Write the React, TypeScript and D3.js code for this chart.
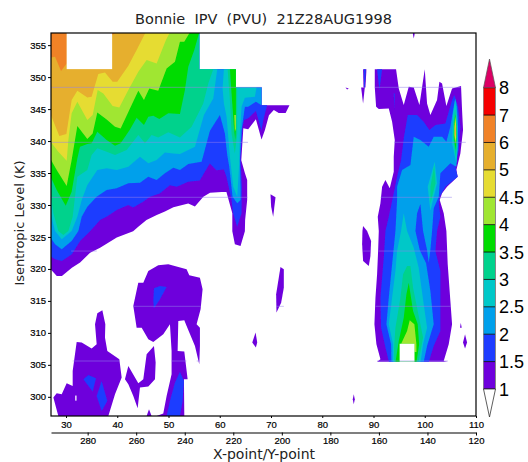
import React, { useEffect, useRef } from 'react';
import * as d3 from 'd3';

type Ring = [number, number][];

// contour regions, as [x-point, theta K] rings, one array per lower bound
const pv1: Ring[] = [
  [[27,357],[56,357],[56,351.25],[63.15,351.25],[63.15,348.4],[68.15,348.4],[68.15,345.6],[73.6,345.6],[72.85,344.4],[71.5,344.4],[70.55,344.85],[69.6,344.05],[68.8,341.7],[68.15,340.25],[67.05,343.4],[65.55,341.85],[64.6,342],[64.2,337],[64.9,335],[65.35,333.9],[65.35,330.8],[64.95,327.65],[64.9,325.9],[64.05,323.6],[62.95,323.85],[62.45,325.9],[62.45,328.7],[61.3,332.05],[60.35,332.05],[58.1,331.9],[56.8,331.3],[55.15,329.75],[53.85,330.25],[50.95,329.65],[49.3,329],[47.7,328.45],[45.7,327.65],[44.1,326.6],[43.1,325.9],[39.9,324.9],[36.65,323.3],[34.7,322.55],[32.75,321],[31.15,320.2],[29.2,318.9],[28.2,318.9],[27,319.95]],
  [[43.13,314.21],[44.1,317.85],[45.08,317.85],[46.06,319.68],[48,320.56],[49.96,320.72],[53.53,319.94],[54.05,319],[56.13,318.64],[56.65,316.81],[56.26,313.69],[55.48,311.34],[56.13,310.82],[56.13,307.96],[56,305.09],[55.16,307.96],[53.53,311.08],[53.08,311.97],[51.91,311.86],[51.78,307.17],[53.08,307.07],[53.73,302.75],[53.01,302.75],[53.08,297],[47.68,297],[48.98,297.38],[49.63,300.14],[50.6,303.53],[50.6,307.17],[50.28,311.34],[48.98,309.78],[47.03,308.58],[46.06,309],[44.76,310.82],[43.78,310.82]],
  [[32.08,308.58],[33.06,308.48],[35,307.54],[35.98,308.22],[35.66,311.34],[36.11,313.06],[37.09,313.53],[37.67,311.34],[37.6,309.26],[38.06,307.17],[40.4,305.87],[40.86,303.01],[39.56,300.4],[38.26,297],[28.5,297],[27.53,299.88],[28.18,300.56],[29.16,300.4],[30.13,302.12],[31.3,301.7],[31.3,304.05]],
  [[41.5,302.75],[42.16,304.83],[44.11,302.12],[45.08,302.75],[45.73,306.65],[47.16,307.96],[47.49,305.35],[47.36,302.75],[46.06,301.6],[44.43,301.44],[43.98,298.21],[43.13,300.14],[42.16,301.96]],
  [[45.73,297],[46.19,298.06],[46.7,297]],
  [[66.34,308.48],[66.99,310.04],[67.31,308.48],[67.05,307.7]],
  [[90.25,351.25],[94.4,351.25],[94.93,348.23],[95.9,345.63],[96.88,348.49],[97.85,348.39],[98.96,345.63],[100,351.25],[100.45,345.89],[101.1,344.06],[102.4,346.41],[102.86,349.28],[103.38,349.01],[104.22,345.47],[105.33,348.23],[107.08,348.6],[107.28,344.85],[107.47,341.72],[106.95,338.07],[106.17,335.47],[106.43,334.43],[104.35,332.86],[103.38,331.82],[102.92,330.78],[103.7,328.7],[104.22,325.93],[104.48,320.72],[105,315],[105.33,311.34],[104.68,308.22],[103.7,305.61],[104.48,305.5],[90.7,305.5],[91.35,305.87],[90.57,308.22],[90.18,311.34],[90.38,315.51],[90.7,319.16],[90.9,322.8],[91.03,325.93],[90.83,328.17],[91.35,330.26],[91.68,332.86],[92.33,333.9],[93.17,332.6],[93.95,335.21],[93.95,337.55],[94.15,340.16],[93.63,343.02],[92.98,345.11],[91.03,345],[90.51,345.37],[90.25,348.39]],
  [[71.85,320.3],[72.5,319.94],[72.5,317.07],[71.98,314.73],[71.07,313.17],[71,316.03]],
  [[86.15,300.4],[86.35,299.62],[86.15,298.84],[85.96,299.62]],
  [[87.97,326.72],[88.75,325.93],[89.53,324.37],[89.4,322.02],[89.08,320.46],[87.97,321.24],[87.78,323.85],[87.84,325.93]],
  [[107.02,311.6],[107.21,310.82],[106.89,310.82]],
  [[107.86,309.78],[108.25,308.48],[107.86,307.54],[107.47,308.48]],
  [[97.85,357],[98.05,356.83],[97.85,356.05],[97.66,356.83]],
  [[69.9,331.7],[70.88,331.2],[70.42,328.17],[70.03,329.74]],
  [[84.53,348.39],[85.18,348.23],[84.85,348.08]],
  [[87.58,348.39],[88.3,348.39],[87.97,345.89]],
  [[87.97,351.25],[88.62,351.25],[88.43,348.39],[88.04,348.39]],
];
const pv15: Ring[] = [
  [[27,357],[56,357],[56,351.25],[63.15,351.25],[63.15,348.4],[68.15,348.4],[68.15,345.6],[69.25,345.6],[68.5,343.3],[68.15,341.6],[67.05,344.7],[65.55,343.55],[64.75,343.3],[64.45,342.25],[64.05,337.55],[64.3,332.85],[64.25,328.7],[63.4,326.6],[62.6,328.7],[62.3,330.8],[61.3,334.4],[60.8,335.55],[59.35,335.45],[58.05,336.5],[56.1,333.85],[53.85,333.65],[51.6,332.85],[50.25,333.1],[48.3,331.8],[46.4,331.3],[45.05,330.5],[43.1,329.6],[42.15,330],[39.9,329.2],[37.9,328.15],[36.65,327.65],[34.7,325.9],[32.75,324.35],[31.15,322.3],[29.2,321.25],[27.85,321.5],[27,322]],
  [[47.16,316.97],[48.33,317.33],[49.63,317.18],[48.33,315.25],[47.16,313.84],[47.03,314.99]],
  [[52.23,303.94],[53.01,302.49],[52.75,299.36],[52.23,297],[49.63,297],[50.28,299.36],[51.26,302.22]],
  [[33.38,302.75],[34.36,303.42],[35.85,302.9],[35.2,300.82]],
  [[36.96,302.49],[38.06,299.36],[36.96,297.8],[35.98,300.14]],
  [[90.7,351.25],[91.68,351.25],[91.16,347.97]],
  [[93.95,347.45],[94.15,347.45],[94.08,344.85]],
  [[88.1,351.25],[88.49,351.25],[88.3,348.39],[88.17,348.39]],
  [[96.68,344.06],[98.5,344.06],[99.8,343.02],[100.91,341.72],[102.08,342.5],[104.03,342.76],[105.33,346.41],[105.78,347.19],[106.5,345.37],[106.95,342.24],[106.63,338.59],[105.98,335.99],[106.43,334.43],[104.03,332.86],[102.92,331.3],[102.73,330.26],[103.05,328.17],[102.4,325.93],[102.08,322.8],[103.05,319.68],[103.05,316.03],[103.05,310.3],[101.75,307.96],[100.8,305.5],[93,305.5],[92.33,307.7],[91.48,310.82],[91.35,315.51],[92,321.76],[92.33,325.93],[92.98,328.17],[94.08,332.34],[94.6,334.43],[95.38,337.03],[95.9,340.42]],
];
const pv2: Ring[] = [
  [[27,357],[56,357],[56,351.25],[63.15,351.25],[63.15,348.4],[68.15,348.4],[68.15,345.6],[67.05,346.15],[65.55,345.37],[64.9,345.37],[64.25,341.72],[63.93,337.03],[64.06,332.86],[64.06,330.78],[63.41,330.26],[62.5,331.3],[61.85,335.99],[61.46,337.81],[61,341.2],[60.03,344.07],[58.08,341.62],[56.46,336.77],[53.86,336.41],[52.23,335.47],[50.93,335.83],[49.3,334.95],[47.68,333.91],[46.06,334.43],[44.43,333.49],[42.16,333.39],[39.88,332.6],[37.93,332.34],[35.98,331.3],[34.16,329.74],[33.06,328.17],[32.41,325.93],[31.1,324.37],[29.16,323.07],[27.86,323.85],[27,324.89]],
  [[97.85,340.68],[99.15,340.16],[100.78,339.12],[101.75,340.68],[103.38,340.68],[104.22,339.9],[105,342.24],[105.65,345.37],[105.98,346.67],[106.3,345.37],[106.5,342.24],[106.43,339.12],[106.17,335.99],[105,336.51],[103.05,334.95],[102.73,331.3],[101.75,329.48],[101.43,325.93],[101.1,322.96],[100.78,320.98],[100.45,322.96],[99.67,325.93],[99.15,330.15],[98.5,328.7],[98.18,325.93],[99.02,322.96],[100.26,320.88],[101.1,316.55],[101.75,311.34],[100.45,307.96],[99.8,305.5],[93.5,305.5],[93.43,308.22],[92.52,311.34],[92.98,315.51],[93.63,320.72],[94.28,325.93],[94.6,330.78],[94.6,332.86],[95.58,335.47],[97.2,336.25]],
];
const pv25: Ring[] = [
  [[27,357],[56,357],[56,351.25],[59.51,351.25],[58.73,346.67],[56.91,344.07],[55.16,339.12],[52.23,337.97],[50.93,338.07],[49.3,338.23],[47.68,337.03],[46.06,336.51],[44.43,337.55],[42.16,335.99],[39.88,335.47],[37.93,335.73],[36.11,335.47],[34.16,333.13],[33.06,330.78],[32.21,328.18],[31.1,325.93],[29.16,324.63],[27.86,325.93],[27,328.7]],
  [[60.81,351.25],[63.15,351.25],[63.15,348.4],[67.18,348.4],[66.86,346.93],[64.9,346.77],[64.25,345.37],[63.93,341.2],[63.8,336.51],[63.41,331.3],[62.63,332.86],[61.98,337.55],[61.33,343.8],[60.81,345.89],[60.55,348.23]],
  [[95.9,328.7],[96.55,325.93],[97.85,323.33],[98.82,320.2],[99.8,314.47],[100.45,310.82],[99.67,308.22],[99.2,305.5],[93.85,305.5],[93.82,308.22],[92.98,311.34],[93.63,315.51],[94.28,319.68],[94.6,322.8],[95.38,325.93]],
  [[100.58,332.86],[101.95,336.77],[102.4,333.39],[101.1,329.11]],
  [[105.52,344.06],[105.91,346.41],[106.3,344.06],[106.43,339.12],[106.17,336.51],[105.33,339.64]],
];
const pv3: Ring[] = [
  [[27,357],[56,357],[56,351.25],[58.73,351.25],[57.76,349.01],[56.78,345.89],[54.51,342.24],[52.23,340.57],[49.96,341.36],[48,340.57],[46.71,340.94],[45.41,339.64],[44.11,340.94],[41.83,338.6],[39.56,337.81],[37.93,338.33],[36.11,338.86],[35,337.81],[34.16,335.47],[32.21,334.43],[31.3,328.18],[30.46,325.93],[29.48,325.31],[28.5,325.93],[27.53,328.7],[27,331.56]],
  [[61.53,351.25],[63.15,351.25],[63.15,348.4],[63.41,348.4],[63.41,341.2],[62.95,338.07],[62.3,341.2],[61.98,346.41]],
  [[96.55,320.46],[97.2,320.46],[97.72,317.07],[99.15,311.34],[99.67,309.26],[98.8,305.5],[94.05,305.5],[94,307.5],[94.28,310.82],[95.25,315.51],[95.77,319.16]],
  [[101.1,332.8],[101.85,336.2],[102.1,333.4],[101.1,330.2]],
  [[105.6,343],[105.93,345],[106.2,343],[106.3,339.5],[106.05,337.5],[105.55,340.5]],
];
const pv35: Ring[] = [
  [[27,357],[56,357],[55.03,354.23],[53.86,351.62],[53.2,347.97],[52.23,344.22],[49.96,344.33],[48.2,343.44],[47.03,343.96],[46.06,343.8],[45.21,342.5],[43.78,343.65],[42.48,341.82],[40.66,339.64],[39.56,339.27],[37.93,340.16],[36.11,341.46],[35,339.64],[34.16,339.53],[32.73,339.12],[32.21,337.29],[31.1,332.08],[29.94,329.89],[28.18,332.34],[27,334.43]],
  [[61.98,351.25],[63.15,351.25],[63.15,342.24],[63.02,340.16],[62.76,342.24],[62.44,345.89]],
  [[96.88,317.85],[97.72,313.43],[98.63,311.34],[98.9,308.2],[98.4,305.5],[94.3,305.5],[94.93,308.74],[95.9,312.38],[96.42,316.03]],
  [[105.75,342.5],[105.95,344.2],[106.15,342.5],[106.15,340],[105.98,338.6],[105.75,340.5]],
];
const pv4: Ring[] = [
  [[27,357],[54.18,357],[53.07,355.53],[52.23,355.53],[51.26,352.4],[49.63,351.36],[48,347.87],[46.25,348.23],[45.21,346.41],[44.11,347.87],[42.48,345.11],[40.66,341.98],[39.56,342.24],[37.93,343.39],[36.11,344.48],[35.2,341.2],[34.16,340.31],[32.21,342.35],[31.1,337.03],[30.13,332.97],[28.18,335.47],[27,337.14]],
  [[62.83,344.07],[63.15,344.07],[63.15,341.98],[62.95,341.46]],
  [[97.07,311.97],[97.98,311.34],[98.37,308.22],[98.37,307],[98,307],[97.98,308.3],[95.4,308.3],[96.55,310.3]],
  [[105.8,342.4],[105.97,343.9],[106.12,342.4],[106.12,340.6],[105.98,339.5],[105.8,340.8]],
];
const pv45: Ring[] = [
  [[27,357],[50.28,357],[49.5,355.79],[47.68,352.14],[45.73,352.66],[44.11,350.84],[42.16,347.97],[40.4,345.26],[39.1,345.47],[37.28,347.45],[36.18,347.97],[35.2,344.07],[34.16,343.28],[32.21,346.15],[31.1,344.33],[30.46,340.16],[30.13,336.93],[28.5,338.33],[27,339.9]],
  [[105.85,342],[105.98,343.3],[106.1,342],[106.1,340.9],[105.98,340.1],[105.85,341]],
];
const pv5: Ring[] = [
  [[27,357],[45.54,357],[43.78,354.23],[42.16,351.78],[40,349.28],[39.1,349.28],[37.6,350.73],[36.3,350.47],[35,346.93],[34.16,346.83],[32.21,347.87],[31.1,346.41],[30.07,341.1],[28.7,340.78],[27,344.17]],
  [[105.9,341.8],[105.98,342.8],[106.06,341.8],[106.06,341],[105.98,340.6],[105.9,341.2]],
];
const pv6: Ring[] = [
  [[27,357],[30.13,357],[30.13,352.14],[29.03,350.94],[27.86,353.18],[27,353.08]],
  [[39,357],[39.9,357],[39,356.6]],
];

const bandRegions = [pv1, pv15, pv2, pv25, pv3, pv35, pv4, pv45, pv5, pv6];
const barLabels = ['1', '1.5', '2', '2.5', '3', '3.5', '4', '4.5', '5', '6', '7', '8'];
const barColors = ['rgb(110,0,220)', 'rgb(30,60,255)', 'rgb(0,160,235)', 'rgb(0,200,200)', 'rgb(0,210,140)', 'rgb(0,220,0)', 'rgb(160,230,50)', 'rgb(230,220,50)', 'rgb(230,175,45)', 'rgb(240,130,40)', 'rgb(245,0,0)'];
const overColor = 'rgb(220,0,100)';

// undefined cells left blank: [x0, x1, theta0, theta1]
const missingCells = [[30.13, 39, 351.25, 357], [95.1, 98, 305.5, 308.3], [31.8, 32.05, 299.4, 300.2]];
// pale seams where the level slices meet: [theta, x0, x1]
const seams = [
  [348.4, 27, 68.15], [348.4, 90.25, 107],
  [339.8, 27, 65.5], [339.8, 94, 108],
  [331.2, 27, 65.4], [331.2, 91.35, 105.3],
  [322.8, 31, 36], [322.8, 88, 89.4], [322.8, 91, 104.2],
  [314.15, 43.1, 56.3], [314.15, 71, 72.5], [314.15, 90.4, 105.1],
  [305.6, 31.3, 40.5], [305.6, 50.6, 53.5], [305.6, 55.5, 56.1], [305.6, 90.7, 104.5],
];

const xTicks = [30, 40, 50, 60, 70, 80, 90, 100, 110];
const yTicks = [300, 305, 310, 315, 320, 325, 330, 335, 340, 345, 350, 355];
const lonTicks = [280, 260, 240, 220, 200, 180, 160, 140, 120];

const App = () => {
  const ref = useRef<SVGSVGElement>(null);

  useEffect(() => {
    const svg = d3.select(ref.current);
    svg.selectAll('*').remove();

    const left = 51, right = 476, top = 33, bottom = 416;
    const x = d3.scaleLinear().domain([27.07, 110]).range([left, right]);
    const y = d3.scaleLinear().domain([297, 356.9]).range([bottom, top]);
    const lon = d3.scaleLinear().domain([295.1, 120]).range([left, right]);

    const defs = svg.append('defs');
    defs.append('clipPath').attr('id', 'plot').append('rect')
      .attr('x', left).attr('y', top).attr('width', right - left).attr('height', bottom - top);
    // the source raster is a little soft along its contour edges
    defs.append('filter').attr('id', 'soft').append('feGaussianBlur').attr('stdDeviation', 0.35);

    const plot = svg.append('g').attr('clip-path', 'url(#plot)').append('g').attr('filter', 'url(#soft)');
    const line = d3.line<[number, number]>().x(d => x(d[0])).y(d => y(d[1]));

    bandRegions.forEach((rings, i) => {
      plot.append('g').selectAll('path').data(rings).join('path')
        .attr('d', d => line(d) + 'Z')
        .attr('fill', barColors[i]);
    });

    plot.append('g').selectAll('rect').data(missingCells).join('rect')
      .attr('x', d => x(d[0])).attr('width', d => x(d[1]) - x(d[0]))
      .attr('y', d => y(d[3])).attr('height', d => y(d[2]) - y(d[3]))
      .attr('fill', '#fff');

    plot.append('g').selectAll('line').data(seams).join('line')
      .attr('x1', d => x(d[1])).attr('x2', d => x(d[2]))
      .attr('y1', d => y(d[0])).attr('y2', d => y(d[0]))
      .attr('stroke', 'rgb(150,130,235)').attr('stroke-opacity', 0.5).attr('stroke-width', 1);

    // frame
    svg.append('rect').attr('x', left).attr('y', top).attr('width', right - left).attr('height', bottom - top)
      .attr('fill', 'none').attr('stroke', '#000').attr('stroke-width', 1.2);

    const tickFont = (g: any) => {
      g.select('.domain').attr('stroke', '#000');
      g.selectAll('text').attr('font-family', 'Liberation Sans').attr('font-size', 9.5).attr('fill', '#000').attr('stroke', '#000').attr('stroke-width', 0.2);
      g.selectAll('line').attr('stroke', '#000');
    };

    svg.append('g').attr('transform', `translate(0,${bottom})`)
      .call(d3.axisBottom(x).tickValues(xTicks).tickSize(2).tickPadding(3))
      .call(tickFont)
      .call((g: any) => g.select('.domain').remove());

    svg.append('g').attr('transform', `translate(${left},0)`)
      .call(d3.axisLeft(y).tickValues(yTicks).tickSize(3).tickPadding(2))
      .call(tickFont)
      .call((g: any) => g.select('.domain').remove());

    svg.append('g').attr('transform', 'translate(0,432.5)')
      .call(d3.axisBottom(lon).tickValues(lonTicks).tickSize(3).tickPadding(2).tickSizeOuter(0))
      .call(tickFont)
      .call((g: any) => g.select('.domain').attr('stroke', '#555').attr('stroke-width', 1.4));

    const title = 'DejaVu Sans';
    svg.append('text').attr('x', 263.5).attr('y', 24).attr('text-anchor', 'middle')
      .attr('font-family', title).attr('font-size', 14.5).attr('fill', '#222').style('white-space', 'pre')
      .text('Bonnie  IPV  (PVU)  21Z28AUG1998');
    svg.append('text').attr('x', 264).attr('y', 459).attr('text-anchor', 'middle')
      .attr('font-family', title).attr('font-size', 14).attr('fill', '#222').text('X-point/Y-point');
    svg.append('text').attr('transform', 'translate(24,223) rotate(-90)').attr('text-anchor', 'middle')
      .attr('font-family', title).attr('font-size', 13).attr('fill', '#222').text('Isentropic Level (K)');

    // colour bar
    const barY = d3.scalePoint<string>().domain(barLabels).range([389, 87.7]);
    const barLeft = 483.5, barRight = 495.5, barMid = (barLeft + barRight) / 2;
    const bar = svg.append('g');
    bar.selectAll('rect').data(barColors).join('rect')
      .attr('x', barLeft).attr('width', barRight - barLeft)
      .attr('y', (_, i) => barY(barLabels[i + 1])!)
      .attr('height', (_, i) => barY(barLabels[i])! - barY(barLabels[i + 1])!)
      .attr('fill', d => d);
    bar.selectAll('line').data(barLabels).join('line')
      .attr('x1', barLeft).attr('x2', barRight)
      .attr('y1', d => barY(d)!).attr('y2', d => barY(d)!)
      .attr('stroke', '#000').attr('stroke-opacity', 0.8);
    bar.append('line').attr('x1', barRight).attr('x2', barRight).attr('y1', 87.7).attr('y2', 389)
      .attr('stroke', '#888').attr('stroke-width', 1);
    bar.append('line').attr('x1', barLeft).attr('x2', barLeft).attr('y1', 87.7).attr('y2', 389)
      .attr('stroke', '#666').attr('stroke-width', 0.6);
    const tri = d3.line();
    bar.append('path').attr('d', tri([[barLeft, 87.7], [barMid, 59], [barRight, 87.7]]) + 'Z')
      .attr('fill', overColor).attr('stroke', '#555').attr('stroke-width', 0.7);
    bar.append('path').attr('d', tri([[barLeft, 389], [barMid, 417], [barRight, 389]]) + 'Z')
      .attr('fill', '#fff').attr('stroke', '#333').attr('stroke-width', 0.8);
    bar.append('g').selectAll('text').data(barLabels).join('text')
      .attr('x', 499).attr('y', d => barY(d)! + 6.5)
      .attr('font-family', 'Liberation Sans').attr('font-size', 18).attr('fill', '#000')
      .text(d => d);
  }, []);

  return <svg ref={ref} width={528} height={462} style={{ position: 'absolute', left: 0, top: 0 }} />;
};

export default App;
